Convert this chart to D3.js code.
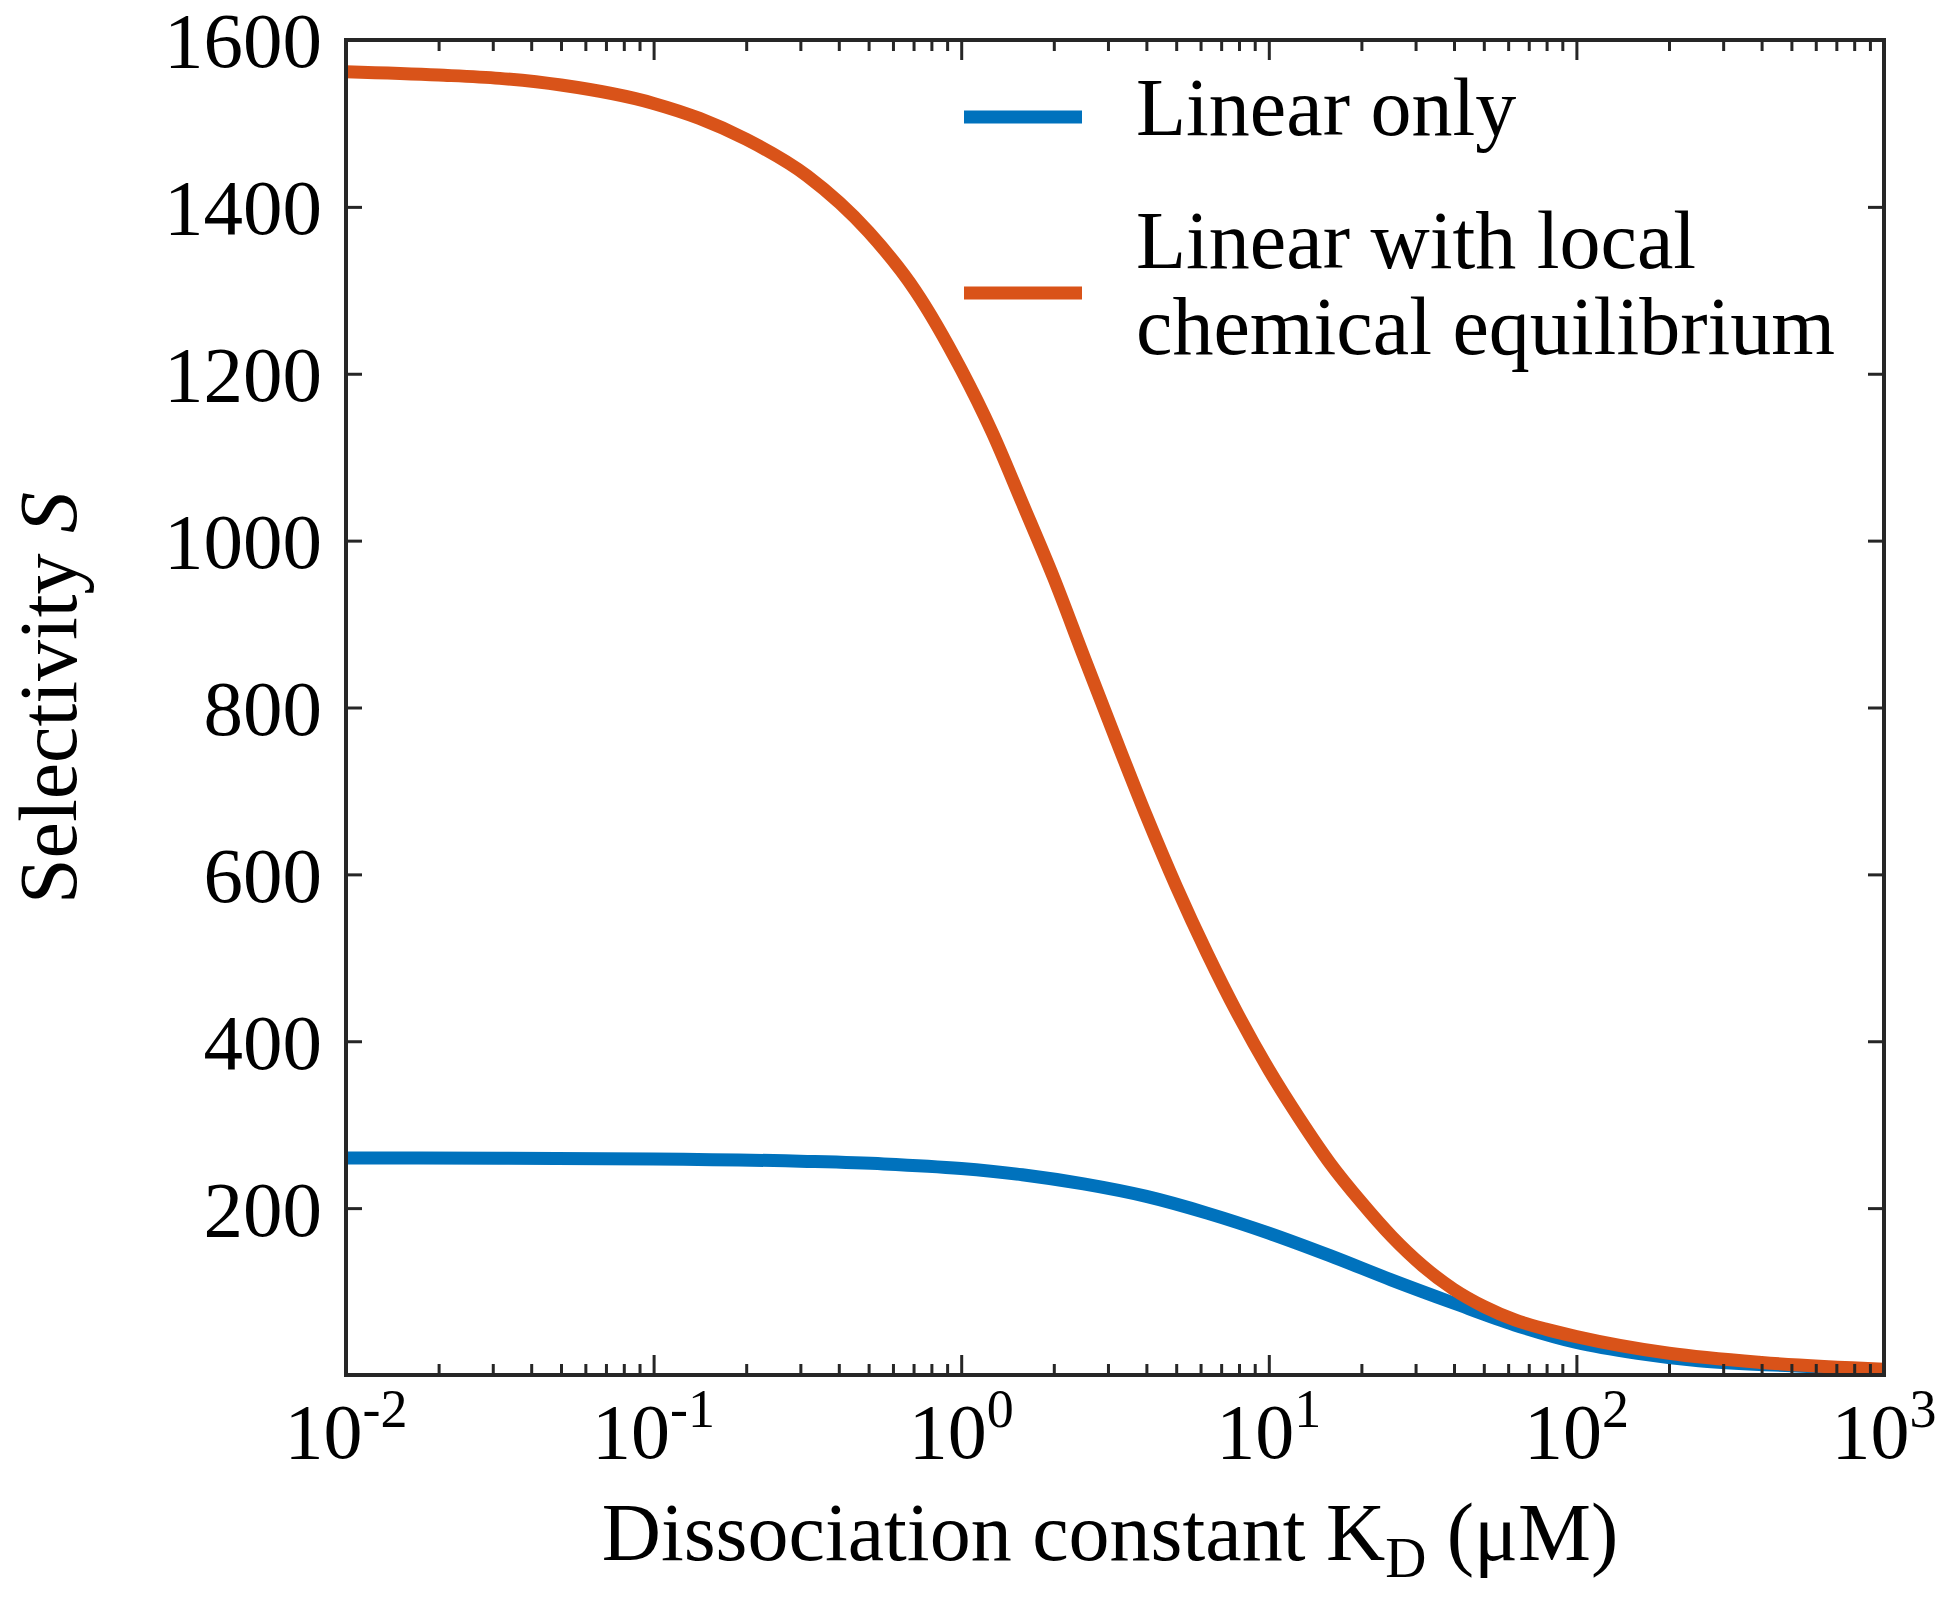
<!DOCTYPE html>
<html>
<head>
<meta charset="utf-8">
<script src="https://cdn.jsdelivr.net/npm/d3@7"></script>
<style>
  html, body { margin: 0; padding: 0; background: #ffffff; }
  svg { display: block; }
  text { font-family: "Liberation Serif", "DejaVu Serif", serif; fill: #000; }
</style>
</head>
<body>
<svg id="chart" width="1950" height="1598"></svg>
<script>
// ---- Data ----
const seriesNames = ["Linear only", "Linear with local chemical equilibrium"];
const kdLinear = [0.01, 0.0316, 0.1, 0.316, 0.56, 1.0, 1.58, 2.5, 4.0, 6.3, 10, 15.8, 25, 40, 63, 100, 158, 250, 500, 1000];
const sLinear  = [260, 259.8, 259, 256, 253, 247.5, 240, 229, 214, 194, 170, 143, 114, 86, 60, 39, 26, 17, 11, 6];
const kdEquil = [0.01, 0.02, 0.0316, 0.05, 0.1, 0.141, 0.2, 0.316, 0.5, 0.708, 1.0, 1.26, 1.58, 2.0, 2.51, 3.16, 3.98, 5.01, 6.31, 7.94, 10, 12.6, 15.8, 20, 25.1, 31.6, 39.8, 50.1, 63.1, 79.4, 100, 200, 400, 1000];
const sEquil  = [1562, 1558, 1554, 1546, 1524, 1506, 1481, 1437, 1370, 1300, 1205, 1130, 1045, 955, 860, 765, 672, 585, 505, 432, 366, 307, 254, 207, 166, 131, 103, 82, 66, 55, 46, 26, 15, 7];
const yTickValues = [200, 400, 600, 800, 1000, 1200, 1400, 1600];
const xTickExponents = [-2, -1, 0, 1, 2, 3];
const colors = ["#0072BD", "#D95319"];

// ---- Layout ----
const M = { left: 346, right: 1884, top: 40, bottom: 1375 };
const axisColor = "#262626";

const svg = d3.select("#chart");

const x = d3.scaleLog().domain([0.01, 1000]).range([M.left, M.right]);
const y = d3.scaleLinear().domain([0, 1600]).range([M.bottom, M.top]);

const majorX = xTickExponents.map(e => Math.pow(10, e));
const minorX = [];
for (let e = -2; e < 3; e++) for (let m = 2; m <= 9; m++) minorX.push(m * Math.pow(10, e));

// ---- Curves ----
const line = d3.line()
  .x(d => x(d[0]))
  .y(d => y(d[1]))
  .curve(d3.curveMonotoneX);

const plot = svg.append("g");
const series = [
  d3.zip(kdLinear, sLinear),
  d3.zip(kdEquil, sEquil)
];
series.forEach((s, i) => {
  plot.append("path")
    .datum(s)
    .attr("d", line)
    .attr("fill", "none")
    .attr("stroke", colors[i])
    .attr("stroke-width", 13)
    .attr("stroke-linejoin", "round")
    .attr("stroke-linecap", "butt");
});

// ---- Axes (ticks inward, mirrored) ----
function styleAxis(g) {
  g.select(".domain").remove();
  g.selectAll(".tick line").attr("stroke", axisColor).attr("stroke-width", 3);
}

svg.append("g").attr("transform", `translate(0,${M.bottom})`)
  .call(d3.axisBottom(x).tickValues(majorX).tickSizeInner(-20).tickSizeOuter(0).tickFormat(""))
  .call(styleAxis);
svg.append("g").attr("transform", `translate(0,${M.bottom})`)
  .call(d3.axisBottom(x).tickValues(minorX).tickSizeInner(-11).tickSizeOuter(0).tickFormat(""))
  .call(styleAxis);
svg.append("g").attr("transform", `translate(0,${M.top})`)
  .call(d3.axisTop(x).tickValues(majorX).tickSizeInner(-20).tickSizeOuter(0).tickFormat(""))
  .call(styleAxis);
svg.append("g").attr("transform", `translate(0,${M.top})`)
  .call(d3.axisTop(x).tickValues(minorX).tickSizeInner(-11).tickSizeOuter(0).tickFormat(""))
  .call(styleAxis);

const yAxisG = svg.append("g").attr("transform", `translate(${M.left},0)`)
  .call(d3.axisLeft(y).tickValues(yTickValues).tickSizeInner(-16).tickSizeOuter(0).tickPadding(24).tickFormat(d3.format("d")))
  .call(styleAxis);
yAxisG.selectAll(".tick text")
  .attr("font-family", "'Liberation Serif', serif")
  .attr("font-size", 79)
  .attr("fill", "#000")
  .attr("dy", "0.34em");

svg.append("g").attr("transform", `translate(${M.right},0)`)
  .call(d3.axisRight(y).tickValues(yTickValues).tickSizeInner(-16).tickSizeOuter(0).tickFormat(""))
  .call(styleAxis);

// frame
svg.append("rect")
  .attr("x", M.left).attr("y", M.top)
  .attr("width", M.right - M.left).attr("height", M.bottom - M.top)
  .attr("fill", "none")
  .attr("stroke", axisColor)
  .attr("stroke-width", 4);

// x tick labels 10^n
const xl = svg.append("g");
xTickExponents.forEach(e => {
  const t = xl.append("text")
    .attr("x", x(Math.pow(10, e)))
    .attr("y", 1458)
    .attr("text-anchor", "middle")
    .attr("font-size", 78);
  t.append("tspan").text("10");
  t.append("tspan").attr("font-size", 54).attr("dy", -31).text(String(e));
});

// axis titles
const xt = svg.append("text")
  .attr("x", 1110).attr("y", 1560)
  .attr("text-anchor", "middle")
  .attr("font-size", 82);
xt.append("tspan").text("Dissociation constant K");
xt.append("tspan").attr("font-size", 57).attr("dy", 17).text("D");
xt.append("tspan").attr("dy", -17).text(" (\u03BCM)");

const yt = svg.append("text")
  .attr("transform", `translate(76,698) rotate(-90)`)
  .attr("text-anchor", "middle")
  .attr("font-size", 82);
yt.append("tspan").text("Selectivity ");
yt.append("tspan").attr("font-style", "italic").text("S");

// ---- Legend ----
const legend = svg.append("g");
const legendRows = [
  { color: colors[0], lineY: 117, lines: [{ t: "Linear only", y: 135 }] },
  { color: colors[1], lineY: 293, lines: [{ t: "Linear with local", y: 268 }, { t: "chemical equilibrium", y: 354 }] }
];
legendRows.forEach(r => {
  legend.append("line")
    .attr("x1", 964).attr("x2", 1082)
    .attr("y1", r.lineY).attr("y2", r.lineY)
    .attr("stroke", r.color).attr("stroke-width", 13);
  r.lines.forEach(l => {
    legend.append("text")
      .attr("x", 1136).attr("y", l.y)
      .attr("font-size", 82)
      .text(l.t);
  });
});
</script>
</body>
</html>
